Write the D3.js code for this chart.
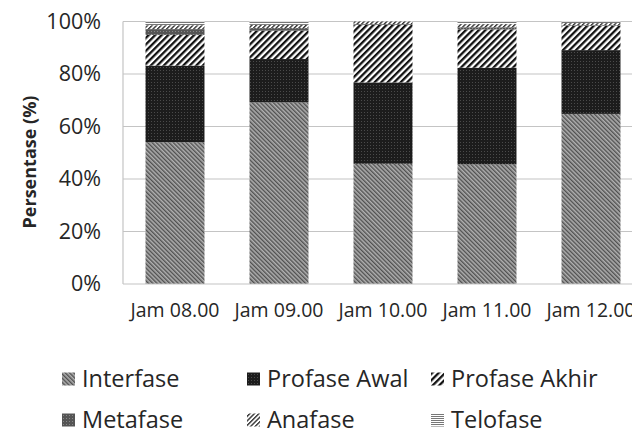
<!DOCTYPE html>
<html><head><meta charset="utf-8">
<script src="https://cdn.jsdelivr.net/npm/d3@7"></script>
<style>body{margin:0;background:#fff}svg{display:block}text{font-family:"Open Sans",sans-serif;fill:#262626}</style>
</head><body>
<svg id="c" width="632" height="434"></svg>
<script>
const categories = ["Jam 08.00","Jam 09.00","Jam 10.00","Jam 11.00","Jam 12.00"];
const seriesNames = ["Interfase","Profase Awal","Profase Akhir","Metafase","Anafase","Telofase"];
const interfase    = [54.0, 69.2, 45.8, 45.6, 64.8];
const profaseAwal  = [29.2, 16.5, 31.0, 36.8, 24.3];
const profaseAkhir = [11.7, 10.8, 21.9, 14.6,  9.2];
const metafase     = [ 2.2,  1.0,  0.3,  0.8,  0.3];
const anafase      = [ 1.5,  1.2,  1.0,  1.2,  0.8];
const telofase     = [ 1.4,  1.3,  0.0,  1.0,  0.6];
const yTicks = [0,20,40,60,80,100];

const seriesValues = [interfase, profaseAwal, profaseAkhir, metafase, anafase, telofase];
const rows = categories.map((c,i)=>{const o={cat:c};seriesNames.forEach((s,j)=>o[s]=seriesValues[j][i]);return o;});

const svg = d3.select("#c");
const defs = svg.append("defs");

function pat(id, w, h, rot, bg, draw){
  const p = defs.append("pattern").attr("id",id).attr("patternUnits","userSpaceOnUse")
    .attr("width",w).attr("height",h);
  if(rot) p.attr("patternTransform","rotate("+rot+")");
  p.append("rect").attr("width",w).attr("height",h).attr("fill",bg);
  draw(p);
}
pat("p0",3,3,-45,"#b0b0b0",p=>p.append("rect").attr("width",1.4).attr("height",3).attr("fill","#505050"));
pat("p1",3,3,0,"#1c1c1c",p=>p.append("rect").attr("x",1).attr("y",1).attr("width",1).attr("height",1).attr("fill","#4a4a4a"));
pat("p2",4.6,4.6,45,"#ffffff",p=>p.append("rect").attr("width",2.3).attr("height",4.6).attr("fill","#111"));
pat("p3",3,3,0,"#555",p=>p.append("rect").attr("x",1).attr("y",1).attr("width",1).attr("height",1).attr("fill","#888"));
pat("p4",3.2,3.2,45,"#ffffff",p=>p.append("rect").attr("width",1.4).attr("height",3.2).attr("fill","#333"));
pat("p5",2,2,0,"#ffffff",p=>p.append("rect").attr("width",2).attr("height",1).attr("fill","#777"));
const fills = ["url(#p0)","url(#p1)","url(#p2)","url(#p3)","url(#p4)","url(#p5)"];

const x = d3.scaleBand().domain(categories).range([123,643]).paddingInner(0.433).paddingOuter(0.2165);
const y = d3.scaleLinear().domain([0,100]).range([284,21.5]);

svg.append("g").selectAll("line").data(yTicks.filter(d=>d>0)).join("line")
  .attr("x1",123).attr("x2",632).attr("y1",d=>y(d)).attr("y2",d=>y(d))
  .attr("stroke","#c4c4c4").attr("stroke-width",1.2);

const stacked = d3.stack().keys(seriesNames)(rows);
svg.append("g").selectAll("g").data(stacked).join("g")
  .attr("fill",(d,i)=>fills[i])
  .selectAll("rect").data(d=>d).join("rect")
  .attr("x",d=>x(d.data.cat)).attr("width",x.bandwidth())
  .attr("y",d=>y(d[1])).attr("height",d=>Math.max(0,y(d[0])-y(d[1])));

svg.append("line").attr("x1",123).attr("x2",123).attr("y1",y(100)).attr("y2",y(0)).attr("stroke","#c4c4c4").attr("stroke-width",1.2);
svg.append("line").attr("x1",123).attr("x2",632).attr("y1",y(0)).attr("y2",y(0)).attr("stroke","#c4c4c4").attr("stroke-width",1.2);

const ya = svg.append("g").attr("transform","translate(101,0)")
  .call(d3.axisLeft(y).tickValues(yTicks).tickFormat(d=>d+"%").tickSize(0).tickPadding(0));
ya.select(".domain").remove();
ya.selectAll("text").style("font-size","21.5px").style("font-family","'Open Sans', sans-serif").attr("fill","#262626");

const xa = svg.append("g").attr("transform","translate(0,"+y(0)+")")
  .call(d3.axisBottom(x).tickSize(0).tickPadding(19));
xa.select(".domain").remove();
xa.selectAll("text").style("font-size","19.5px").style("font-family","'Open Sans', sans-serif").attr("fill","#262626");

svg.append("text").attr("transform","translate(36,162) rotate(-90)")
  .attr("text-anchor","middle").style("font-size","18px").style("font-weight","bold")
  .text("Persentase (%)");

const legPos = [[62,379],[247,379],[431,379],[62,420],[247,420],[431,420]];
const lg = svg.append("g").selectAll("g").data(seriesNames).join("g")
  .attr("transform",(d,i)=>"translate("+legPos[i][0]+","+legPos[i][1]+")");
lg.append("rect").attr("x",0).attr("y",-6.5).attr("width",13).attr("height",13).attr("fill",(d,i)=>fills[i]);
lg.append("text").attr("x",20).attr("y",0).attr("dy","0.36em").style("font-size","23.5px").text(d=>d);
</script>
</body></html>
